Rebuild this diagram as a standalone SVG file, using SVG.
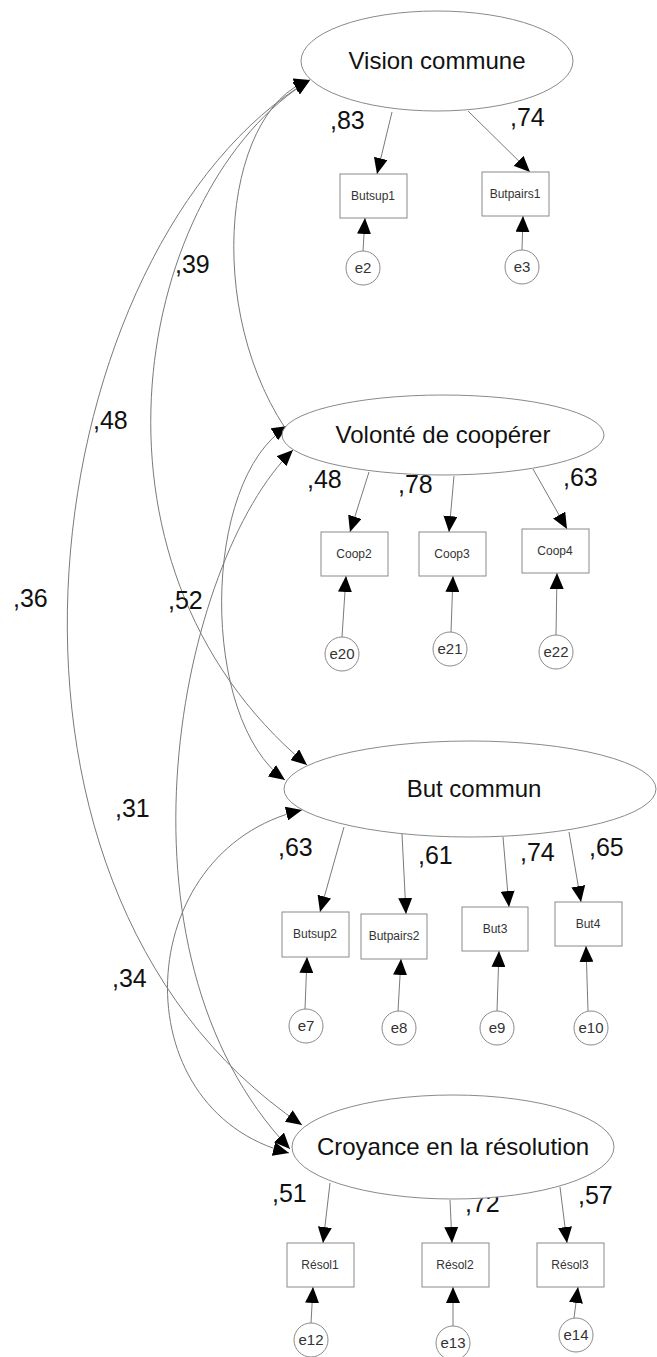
<svg xmlns="http://www.w3.org/2000/svg" width="657" height="1357" viewBox="0 0 657 1357">
<defs>
<marker id="arr" viewBox="0 0 16 14" refX="16" refY="7" markerWidth="16" markerHeight="14" markerUnits="userSpaceOnUse" orient="auto-start-reverse"><path d="M0,0 L16,7 L0,14 z" fill="#000"/></marker>
</defs>
<style>
.lat{fill:#fff;stroke:#8a8a8a;stroke-width:1}
.obs{fill:#fff;stroke:#8a8a8a;stroke-width:1}
.err{fill:#fff;stroke:#8a8a8a;stroke-width:1}
.lt{font-family:"Liberation Sans",Arial,sans-serif;font-size:24px;fill:#111;text-anchor:middle}
.ot{font-family:"Liberation Sans",Arial,sans-serif;font-size:12px;fill:#333;text-anchor:middle}
.et{font-family:"Liberation Sans",Arial,sans-serif;font-size:15px;fill:#333;text-anchor:middle}
.co{font-family:"Liberation Sans",Arial,sans-serif;font-size:25px;fill:#111}
.ln{fill:none;stroke:#7a7a7a;stroke-width:1;marker-end:url(#arr)}
.cv{fill:none;stroke:#7a7a7a;stroke-width:1;marker-start:url(#arr);marker-end:url(#arr)}
</style>
<rect width="657" height="1357" fill="#fff"/>
<g id="connectors">
<path class="cv" d="M310 80 C220 110 200 330 303 452"/>
<path class="cv" d="M310 80 C138 185 62 560 307 765"/>
<path class="cv" d="M310 80 C40 240 -60 880 302 1125"/>
<path class="cv" d="M288 426 C200 480 200 720 285 780"/>
<path class="cv" d="M293 450 C180 560 100 950 290 1149"/>
<path class="cv" d="M302 810 C130 850 120 1110 289 1153"/>
<line class="ln" x1="392" y1="112" x2="377" y2="174"/>
<line class="ln" x1="468" y1="111" x2="530" y2="172"/>
<line class="ln" x1="363" y1="251" x2="365" y2="218"/>
<line class="ln" x1="522" y1="250" x2="523" y2="216"/>
<line class="ln" x1="369" y1="472" x2="350" y2="532"/>
<line class="ln" x1="454" y1="476" x2="449" y2="532"/>
<line class="ln" x1="533" y1="469" x2="567" y2="529"/>
<line class="ln" x1="342" y1="637" x2="346" y2="576"/>
<line class="ln" x1="451" y1="632" x2="453" y2="576"/>
<line class="ln" x1="556" y1="635" x2="557" y2="573"/>
<line class="ln" x1="344" y1="827" x2="320" y2="912"/>
<line class="ln" x1="402" y1="834" x2="406" y2="914"/>
<line class="ln" x1="503" y1="837" x2="509" y2="907"/>
<line class="ln" x1="569" y1="832" x2="581" y2="902"/>
<line class="ln" x1="305" y1="1009" x2="307" y2="957"/>
<line class="ln" x1="398" y1="1011" x2="401" y2="959"/>
<line class="ln" x1="497" y1="1011" x2="499" y2="951"/>
<line class="ln" x1="588" y1="1011" x2="586" y2="946"/>
<line class="ln" x1="330" y1="1183" x2="323" y2="1243"/>
<line class="ln" x1="450" y1="1200" x2="452" y2="1243"/>
<line class="ln" x1="560" y1="1187" x2="567" y2="1243"/>
<line class="ln" x1="311" y1="1323" x2="313" y2="1287"/>
<line class="ln" x1="453" y1="1326" x2="453" y2="1287"/>
<line class="ln" x1="574" y1="1318" x2="578" y2="1287"/>
<text class="co" x="175" y="273">,39</text>
<text class="co" x="93" y="429">,48</text>
<text class="co" x="13" y="607">,36</text>
<text class="co" x="168" y="609">,52</text>
<text class="co" x="115" y="817">,31</text>
<text class="co" x="112" y="987">,34</text>
<text class="co" x="330" y="129">,83</text>
<text class="co" x="510" y="126">,74</text>
<text class="co" x="307" y="488">,48</text>
<text class="co" x="398" y="493">,78</text>
<text class="co" x="563" y="486">,63</text>
<text class="co" x="278" y="856">,63</text>
<text class="co" x="418" y="864">,61</text>
<text class="co" x="520" y="861">,74</text>
<text class="co" x="589" y="856">,65</text>
<text class="co" x="272" y="1202">,51</text>
<text class="co" x="465" y="1212">,72</text>
<text class="co" x="578" y="1204">,57</text>
</g>
<g id="vision"><ellipse class="lat" cx="437" cy="61" rx="136" ry="50"/><text class="lt" x="437" y="69">Vision commune</text></g>
<g id="volonte"><ellipse class="lat" cx="443" cy="435" rx="161" ry="40"/><text class="lt" x="443" y="443">Volonté de coopérer</text></g>
<g id="butcommun"><ellipse class="lat" cx="470" cy="789" rx="186" ry="48"/><text class="lt" x="474" y="797">But commun</text></g>
<g id="croyance"><ellipse class="lat" cx="453" cy="1147" rx="161" ry="52"/><text class="lt" x="453" y="1155">Croyance en la résolution</text></g>
<g id="butsup1"><rect class="obs" x="340" y="174" width="67" height="44"/><text class="ot" x="373" y="200">Butsup1</text></g>
<g id="butpairs1"><rect class="obs" x="482" y="172" width="67" height="44"/><text class="ot" x="515" y="198">Butpairs1</text></g>
<g id="coop2"><rect class="obs" x="321" y="532" width="67" height="44"/><text class="ot" x="354" y="558">Coop2</text></g>
<g id="coop3"><rect class="obs" x="419" y="532" width="67" height="44"/><text class="ot" x="452" y="558">Coop3</text></g>
<g id="coop4"><rect class="obs" x="522" y="529" width="67" height="44"/><text class="ot" x="555" y="555">Coop4</text></g>
<g id="butsup2"><rect class="obs" x="282" y="912" width="67" height="45"/><text class="ot" x="315" y="938">Butsup2</text></g>
<g id="butpairs2"><rect class="obs" x="361" y="914" width="66" height="45"/><text class="ot" x="394" y="940">Butpairs2</text></g>
<g id="but3"><rect class="obs" x="462" y="907" width="66" height="44"/><text class="ot" x="495" y="933">But3</text></g>
<g id="but4"><rect class="obs" x="555" y="902" width="67" height="44"/><text class="ot" x="588" y="928">But4</text></g>
<g id="resol1"><rect class="obs" x="287" y="1243" width="67" height="44"/><text class="ot" x="320" y="1269">Résol1</text></g>
<g id="resol2"><rect class="obs" x="422" y="1243" width="67" height="44"/><text class="ot" x="455" y="1269">Résol2</text></g>
<g id="resol3"><rect class="obs" x="537" y="1243" width="67" height="44"/><text class="ot" x="570" y="1269">Résol3</text></g>
<g id="e2"><circle class="err" cx="363" cy="268" r="17"/><text class="et" x="363" y="273">e2</text></g>
<g id="e3"><circle class="err" cx="522" cy="267" r="17"/><text class="et" x="522" y="272">e3</text></g>
<g id="e20"><circle class="err" cx="342" cy="654" r="17"/><text class="et" x="342" y="659">e20</text></g>
<g id="e21"><circle class="err" cx="450" cy="649" r="17"/><text class="et" x="450" y="654">e21</text></g>
<g id="e22"><circle class="err" cx="556" cy="652" r="17"/><text class="et" x="556" y="657">e22</text></g>
<g id="e7"><circle class="err" cx="306" cy="1026" r="17"/><text class="et" x="306" y="1031">e7</text></g>
<g id="e8"><circle class="err" cx="399" cy="1028" r="17"/><text class="et" x="399" y="1033">e8</text></g>
<g id="e9"><circle class="err" cx="497" cy="1028" r="17"/><text class="et" x="497" y="1033">e9</text></g>
<g id="e10"><circle class="err" cx="591" cy="1028" r="17"/><text class="et" x="591" y="1033">e10</text></g>
<g id="e12"><circle class="err" cx="311" cy="1340" r="17"/><text class="et" x="311" y="1345">e12</text></g>
<g id="e13"><circle class="err" cx="453" cy="1343" r="17"/><text class="et" x="453" y="1348">e13</text></g>
<g id="e14"><circle class="err" cx="576" cy="1335" r="17"/><text class="et" x="576" y="1340">e14</text></g>
</svg>
